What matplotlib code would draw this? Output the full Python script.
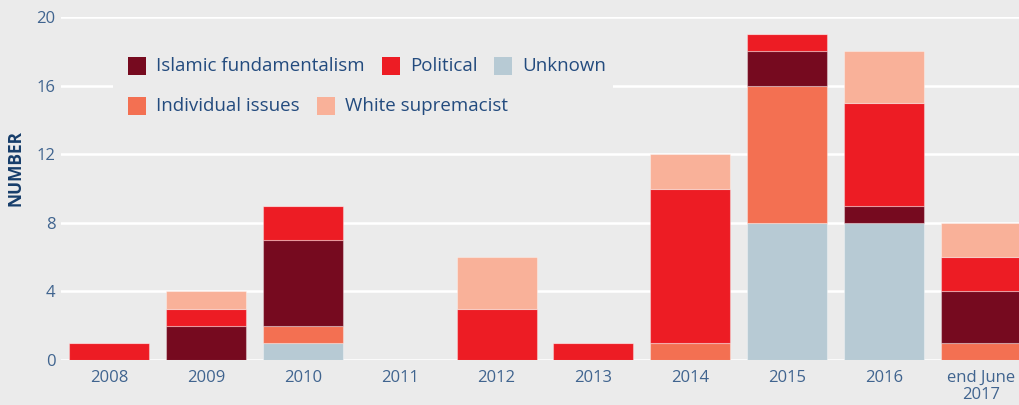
import matplotlib
matplotlib.use("Agg")
import matplotlib.pyplot as plt
from matplotlib.patches import Rectangle
import numpy as np

plt.rcParams['font.family'] = ['Open Sans', 'DejaVu Sans']

years = ["2008", "2009", "2010", "2011", "2012", "2013", "2014", "2015", "2016", "end June\n2017"]
# stacking order bottom -> top
unknown = [0, 0, 1, 0, 0, 0, 0, 8, 8, 0]
individual = [0, 0, 1, 0, 0, 0, 1, 8, 0, 1]
islamic = [0, 2, 5, 0, 0, 0, 0, 2, 1, 3]
political = [1, 1, 2, 0, 3, 1, 9, 1, 6, 2]
white_sup = [0, 1, 0, 0, 3, 0, 2, 0, 3, 2]

series = [
    ("Unknown", unknown, "#b7cad4"),
    ("Individual issues", individual, "#f37052"),
    ("Islamic fundamentalism", islamic, "#760a1f"),
    ("Political", political, "#ed1c24"),
    ("White supremacist", white_sup, "#f9b199"),
]
colors = {name: c for name, _, c in series}

bg = "#ebebeb"
tick_color = "#40648f"
legend_color = "#234b7e"
label_color = "#163d6b"

W, H = 1019, 405
fig = plt.figure(figsize=(W / 100, H / 100), dpi=100, facecolor=bg)
ax = fig.add_axes([61 / W, (H - 360) / H, (W - 61) / W, (360 - 17) / H])
ax.set_facecolor(bg)

x = np.arange(len(years))
bottom = np.zeros(len(years))
for name, vals, c in series:
    v = np.array(vals, dtype=float)
    ax.bar(x, v, width=0.825, bottom=bottom, color=c, edgecolor=(1, 1, 1, 0.35),
           linewidth=0.8, zorder=2)
    bottom += v

ax.set_ylim(0, 20)
ax.set_xlim(-0.495, 9.392)
ax.set_yticks([0, 4, 8, 12, 16, 20])
ax.set_xticks(x)
ax.set_xticklabels(years)
ax.yaxis.grid(True, color="white", linewidth=1.8, zorder=0.5)
ax.set_axisbelow(True)
for s in ax.spines.values():
    s.set_visible(False)
ax.tick_params(axis="both", length=0, colors=tick_color, labelsize=12)
ax.tick_params(axis="x", pad=7)
ax.tick_params(axis="y", pad=4)
for lbl in ax.get_xticklabels():
    lbl.set_linespacing(1.1)
ax.set_ylabel("NUMBER", fontsize=12.5, fontweight="bold", color=label_color)
ax.yaxis.set_label_coords(-36 / (W - 61), (360 - 168) / 343)

def px(xp, yp):
    return xp / W, (H - yp) / H

# legend background (hides gridline behind legend), drawn under the bars
inv = ax.transAxes.inverted()
def ax_px(xp, yp):
    return inv.transform(fig.transFigure.transform(px(xp, yp)))
a0 = ax_px(113, 130)
a1 = ax_px(613, 38)
ax.add_patch(Rectangle(a0, a1[0] - a0[0], a1[1] - a0[1], transform=ax.transAxes,
                       facecolor=bg, edgecolor="none", zorder=1))

legend_items = [
    ("Islamic fundamentalism", 128, 66),
    ("Political", 382, 66),
    ("Unknown", 494, 66),
    ("Individual issues", 128, 106),
    ("White supremacist", 317, 106),
]
sq = 18
for name, xs, yc in legend_items:
    r0 = px(xs, yc + sq / 2)
    fig.add_artist(Rectangle(r0, sq / W, sq / H, transform=fig.transFigure,
                             facecolor=colors[name], edgecolor="none", zorder=3))
    tx, ty = px(xs + sq + 10, yc)
    fig.text(tx, ty, name, color=legend_color, fontsize=13.5, va="center", ha="left", zorder=3)

fig.savefig("out.png", dpi=100, facecolor=bg)
